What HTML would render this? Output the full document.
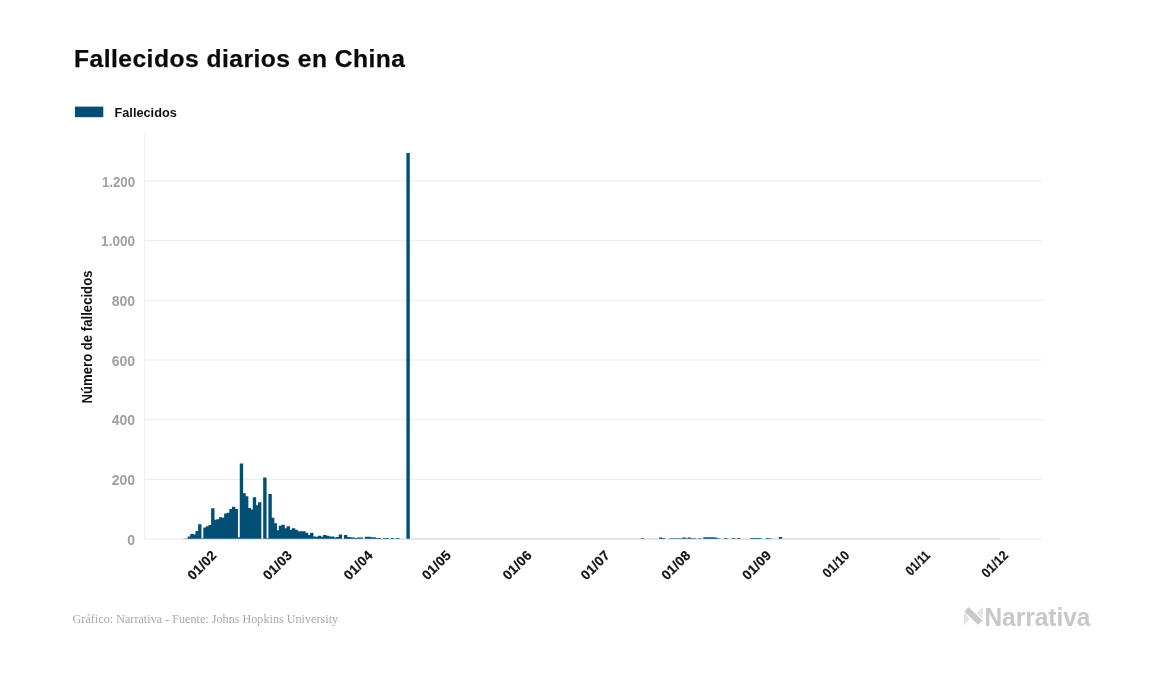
<!DOCTYPE html>
<html><head><meta charset="utf-8">
<style>
html,body{margin:0;padding:0;background:#fff;}
body{width:1157px;height:674px;overflow:hidden;}
svg{display:block;will-change:transform;}
text{font-family:"Liberation Sans", sans-serif;}
</style></head>
<body>
<svg width="1157" height="674" viewBox="0 0 1157 674">
<rect width="1157" height="674" fill="#fff"/>
<text x="74" y="67" font-size="24.6" font-weight="bold" fill="#0a0a0a" stroke="#0a0a0a" stroke-width="0.25" textLength="331">Fallecidos diarios en China</text>
<rect x="75" y="106.6" width="28.3" height="10.6" fill="#024f75"/>
<text x="114.5" y="116.7" font-size="13.6" font-weight="bold" fill="#111" textLength="62.3" lengthAdjust="spacingAndGlyphs">Fallecidos</text>
<g stroke="#ebebeb" stroke-width="1">
<line x1="144.5" x2="144.5" y1="134" y2="539" stroke="#eeeeee"/>
<line x1="144" x2="1042" y1="539.0" y2="539.0"/>
<line x1="144" x2="1042" y1="479.33" y2="479.33"/>
<line x1="144" x2="1042" y1="419.67" y2="419.67"/>
<line x1="144" x2="1042" y1="360.0" y2="360.0"/>
<line x1="144" x2="1042" y1="300.34" y2="300.34"/>
<line x1="144" x2="1042" y1="240.67" y2="240.67"/>
<line x1="144" x2="1042" y1="181.0" y2="181.0"/>
</g>
<line x1="182" x2="1000" y1="539" y2="539" stroke="#cdd8e0" stroke-width="1"/>
<g font-size="14" font-weight="bold" fill="#a0a0a0" text-anchor="end">
<text x="135.1" y="544.6">0</text>
<text x="135.1" y="484.9">200</text>
<text x="135.1" y="425.3">400</text>
<text x="135.1" y="365.6">600</text>
<text x="135.1" y="305.9">800</text>
<text x="135.1" y="246.3" textLength="34" lengthAdjust="spacingAndGlyphs">1.000</text>
<text x="135.1" y="186.6" textLength="33.2" lengthAdjust="spacingAndGlyphs">1.200</text>
</g>
<text transform="translate(92.2,337) rotate(-90)" text-anchor="middle" font-size="14.4" font-weight="bold" fill="#111" textLength="133" lengthAdjust="spacingAndGlyphs">Número de fallecidos</text>
<g fill="#024f75">
<path d="M185.06 538.80V538.50H188.46V538.80ZM187.67 538.80V536.41H191.07V538.80ZM190.27 538.80V534.02H193.67V538.80ZM192.88 538.80V534.61H196.28V538.80ZM195.48 538.80V531.03H198.88V538.80ZM198.08 538.80V524.15H201.48V538.80ZM200.69 538.80V538.20H204.09V538.80ZM203.29 538.80V527.44H206.69V538.80ZM205.90 538.80V526.24H209.30V538.80ZM208.50 538.80V525.05H211.90V538.80ZM211.10 538.80V508.30H214.50V538.80ZM213.71 538.80V519.66H217.11V538.80ZM216.31 538.80V519.37H219.71V538.80ZM218.92 538.80V517.27H222.32V538.80ZM221.52 538.80V517.87H224.92V538.80ZM224.12 538.80V513.38H227.52V538.80ZM226.73 538.80V512.79H230.13V538.80ZM229.33 538.80V508.90H232.73V538.80ZM231.94 538.80V506.81H235.34V538.80ZM234.54 538.80V508.90H237.94V538.80ZM237.14 538.80V537.30H240.54V538.80ZM239.75 538.80V463.45H243.15V538.80ZM242.35 538.80V493.35H245.75V538.80ZM244.96 538.80V496.34H248.36V538.80ZM247.56 538.80V508.00H250.96V538.80ZM250.16 538.80V509.50H253.56V538.80ZM252.77 538.80V497.24H256.17V538.80ZM255.37 538.80V505.31H258.77V538.80ZM257.98 538.80V502.32H261.38V538.80ZM263.18 538.80V477.50H266.58V538.80ZM265.79 538.80V538.20H269.19V538.80ZM268.39 538.80V493.95H271.79V538.80ZM271.00 538.80V517.87H274.40V538.80ZM273.60 538.80V523.25H277.00V538.80ZM276.20 538.80V530.13H279.60V538.80ZM278.81 538.80V525.64H282.21V538.80ZM281.41 538.80V524.75H284.81V538.80ZM284.02 538.80V528.33H287.42V538.80ZM286.62 538.80V526.24H290.02V538.80ZM289.22 538.80V529.83H292.62V538.80ZM291.83 538.80V528.33H295.23V538.80ZM294.43 538.80V529.83H297.83V538.80ZM297.04 538.80V531.32H300.44V538.80ZM299.64 538.80V531.32H303.04V538.80ZM302.24 538.80V531.32H305.64V538.80ZM304.85 538.80V532.82H308.25V538.80ZM307.45 538.80V534.91H310.85V538.80ZM310.06 538.80V532.82H313.46V538.80ZM312.66 538.80V536.41H316.06V538.80ZM315.26 538.80V536.71H318.66V538.80ZM317.87 538.80V535.81H321.27V538.80ZM320.47 538.80V536.71H323.87V538.80ZM323.08 538.80V534.91H326.48V538.80ZM325.68 538.80V535.81H329.08V538.80ZM328.28 538.80V536.41H331.68V538.80ZM330.89 538.80V536.41H334.29V538.80ZM333.49 538.80V537.60H336.89V538.80ZM336.10 538.80V537.01H339.50V538.80ZM338.70 538.80V534.61H342.10V538.80ZM343.91 538.80V534.91H347.31V538.80ZM346.51 538.80V537.01H349.91V538.80ZM349.12 538.80V537.30H352.52V538.80ZM351.72 538.80V537.60H355.12V538.80ZM354.32 538.80V537.90H357.72V538.80ZM356.93 538.80V537.60H360.33V538.80ZM359.53 538.80V537.60H362.93V538.80ZM364.74 538.80V536.71H368.14V538.80ZM367.34 538.80V536.71H370.74V538.80ZM369.95 538.80V537.30H373.35V538.80ZM372.55 538.80V537.30H375.95V538.80ZM375.16 538.80V537.90H378.56V538.80ZM377.76 538.80V537.90H381.16V538.80ZM382.97 538.80V537.90H386.37V538.80ZM385.57 538.80V537.90H388.97V538.80ZM390.78 538.80V537.90H394.18V538.80ZM395.99 538.80V537.90H399.39V538.80ZM406.40 538.80V153.09H409.80V538.80ZM640.76 538.80V538.20H644.16V538.80ZM658.99 538.80V537.60H662.39V538.80ZM661.60 538.80V537.90H665.00V538.80ZM669.41 538.80V538.20H672.81V538.80ZM672.01 538.80V538.20H675.41V538.80ZM674.62 538.80V538.20H678.02V538.80ZM677.22 538.80V538.20H680.62V538.80ZM679.82 538.80V538.20H683.22V538.80ZM682.43 538.80V537.60H685.83V538.80ZM685.03 538.80V538.20H688.43V538.80ZM687.64 538.80V537.60H691.04V538.80ZM690.24 538.80V538.20H693.64V538.80ZM692.84 538.80V538.20H696.24V538.80ZM698.05 538.80V538.20H701.45V538.80ZM703.26 538.80V537.30H706.66V538.80ZM705.86 538.80V537.30H709.26V538.80ZM708.47 538.80V537.30H711.87V538.80ZM711.07 538.80V537.30H714.47V538.80ZM713.68 538.80V537.60H717.08V538.80ZM716.28 538.80V538.20H719.68V538.80ZM724.09 538.80V537.90H727.49V538.80ZM731.90 538.80V537.90H735.30V538.80ZM737.11 538.80V537.90H740.51V538.80ZM750.13 538.80V537.90H753.53V538.80ZM752.74 538.80V537.90H756.14V538.80ZM755.34 538.80V537.90H758.74V538.80ZM757.94 538.80V537.90H761.34V538.80ZM765.76 538.80V537.90H769.16V538.80ZM768.36 538.80V538.20H771.76V538.80ZM778.78 538.80V537.01H782.18V538.80Z"/>
</g>
<g font-size="13.5" font-weight="bold" fill="#111" stroke="#111" stroke-width="0.2" text-anchor="end" letter-spacing="0.2">
<text transform="translate(217.5,556.2) rotate(-45)" textLength="34.6" lengthAdjust="spacingAndGlyphs">01/02</text>
<text transform="translate(293.0,556.2) rotate(-45)" textLength="34.6" lengthAdjust="spacingAndGlyphs">01/03</text>
<text transform="translate(373.7,556.2) rotate(-45)" textLength="34.6" lengthAdjust="spacingAndGlyphs">01/04</text>
<text transform="translate(451.9,556.2) rotate(-45)" textLength="34.6" lengthAdjust="spacingAndGlyphs">01/05</text>
<text transform="translate(532.6,556.2) rotate(-45)" textLength="34.6" lengthAdjust="spacingAndGlyphs">01/06</text>
<text transform="translate(610.7,556.2) rotate(-45)" textLength="34.6" lengthAdjust="spacingAndGlyphs">01/07</text>
<text transform="translate(691.4,556.2) rotate(-45)" textLength="34.6" lengthAdjust="spacingAndGlyphs">01/08</text>
<text transform="translate(772.2,556.2) rotate(-45)" textLength="34.6" lengthAdjust="spacingAndGlyphs">01/09</text>
<text transform="translate(850.3,556.2) rotate(-45)" textLength="31.4" lengthAdjust="spacingAndGlyphs">01/10</text>
<text transform="translate(931.0,556.2) rotate(-45)" textLength="28.2" lengthAdjust="spacingAndGlyphs">01/11</text>
<text transform="translate(1009.1,556.2) rotate(-45)" textLength="31.4" lengthAdjust="spacingAndGlyphs">01/12</text>
</g>
<text x="72.6" y="623" textLength="265.5" font-family="Liberation Serif, serif" style="font-family:'Liberation Serif', serif" font-size="12.1" fill="#a8a8a8">Gráfico: Narrativa - Fuente: Johns Hopkins University</text>
<g>
<polygon points="964,612.2 964,625.2 969.8,619.2" fill="#e4e4e4"/>
<polygon points="982.8,606.8 982.8,618.8 976.6,613" fill="#e4e4e4"/>
<polygon points="968.6,607 982.6,620.4 978,624.8 964.4,611.4" fill="#c9c9c9"/>
</g>
<text x="984.4" y="625.5" font-size="25.6" font-weight="bold" fill="#c8c8c8" textLength="106" lengthAdjust="spacingAndGlyphs">Narrativa</text>
</svg>
</body></html>
